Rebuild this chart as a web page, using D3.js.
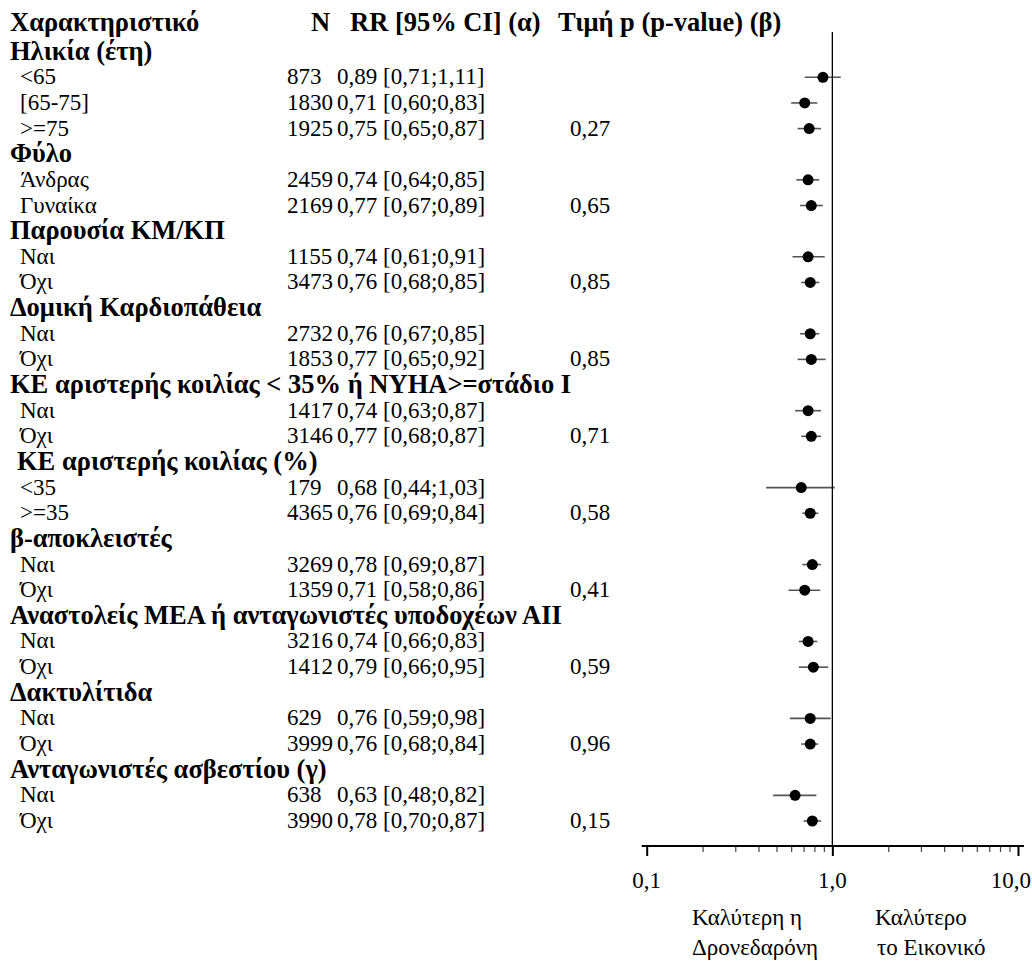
<!DOCTYPE html>
<html><head><meta charset="utf-8">
<script src="https://cdn.jsdelivr.net/npm/d3@7"></script>
<style>body{margin:0;background:#fff}svg{display:block}</style>
</head><body><svg id="c" width="1032" height="962"></svg>
<script>
const groupTitles = ["Ηλικία (έτη)","Φύλο","Παρουσία ΚΜ/ΚΠ","Δομική Καρδιοπάθεια","ΚΕ αριστερής κοιλίας < 35% ή NYHA>=στάδιο I"," ΚΕ αριστερής κοιλίας (%)","β-αποκλειστές","Αναστολείς ΜΕΑ ή ανταγωνιστές υποδοχέων ΑΙΙ","Δακτυλίτιδα","Ανταγωνιστές ασβεστίου (γ)"];
const itemGroup = [0,0,0,1,1,2,2,3,3,4,4,5,5,6,6,7,7,8,8,9,9];
const itemLabels = ["<65","[65-75]",">=75","Άνδρας","Γυναίκα","Ναι","Όχι","Ναι","Όχι","Ναι","Όχι","<35",">=35","Ναι","Όχι","Ναι","Όχι","Ναι","Όχι","Ναι","Όχι"];
const itemN = [873,1830,1925,2459,2169,1155,3473,2732,1853,1417,3146,179,4365,3269,1359,3216,1412,629,3999,638,3990];
const rr = [0.89,0.71,0.75,0.74,0.77,0.74,0.76,0.76,0.77,0.74,0.77,0.68,0.76,0.78,0.71,0.74,0.79,0.76,0.76,0.63,0.78];
const ciLow = [0.71,0.60,0.65,0.64,0.67,0.61,0.68,0.67,0.65,0.63,0.68,0.44,0.69,0.69,0.58,0.66,0.66,0.59,0.68,0.48,0.70];
const ciHigh = [1.11,0.83,0.87,0.85,0.89,0.91,0.85,0.85,0.92,0.87,0.87,1.03,0.84,0.87,0.86,0.83,0.95,0.98,0.84,0.82,0.87];
const pValues = ["","","0,27","","0,65","","0,85","","0,85","","0,71","","0,58","","0,41","","0,59","","0,96","","0,15"];
const headers = ["Χαρακτηριστικό","N","RR [95% CI] (α)","Τιμή p (p-value) (β)"];
const tickValues = [0.1,1,10];
const tickLabels = ["0,1","1,0","10,0"];
const favourLeft = ["Καλύτερη η","Δρονεδαρόνη"];
const favourRight = ["Καλύτερο","το Εικονικό"];

const svg = d3.select("#c");
const FS = 23, FSB = 26.5;
const FF = "'Liberation Serif', 'Times New Roman', serif";
function txt(x0,y0,s,bold){
  return svg.append("text").attr("x",x0).attr("y",y0)
    .attr("font-family","Liberation Serif")
    .style("font-family",FF).style("font-size",(bold?FSB:FS)+"px")
    .style("font-weight",bold?"bold":"normal").style("fill","#000").text(s);
}
const rows = [];
let gi = -1;
itemLabels.forEach((lab,i)=>{
  if(itemGroup[i]!==gi){gi=itemGroup[i];rows.push({type:"g",label:groupTitles[gi]});}
  rows.push({type:"i",i});
});
const y = d3.scaleLinear().domain([0,31]).range([26,821]);
const x = d3.scaleLog().domain([0.1,10]).range([646.7,1018]);
const fmt = v => v.toFixed(2).replace(".",",");
const dy = 7, dyb = 8;

const hx=[10,311,350,558];
headers.forEach((h,k)=>txt(hx[k],y(0)+dyb-3,h,true));

rows.forEach((r,k)=>{
  const yy = y(k+1);
  if(r.type==="g"){
    txt(r.label.startsWith(" ")?17:10,yy+dyb,r.label.trim(),true);
  } else {
    const i=r.i;
    txt(20,yy+dy,itemLabels[i]);
    txt(287,yy+dy,String(itemN[i]));
    txt(337,yy+dy,fmt(rr[i])+" ["+fmt(ciLow[i])+";"+fmt(ciHigh[i])+"]");
    if(pValues[i]) txt(570,yy+dy,pValues[i]);
    svg.append("line").attr("x1",x(ciLow[i])).attr("x2",x(ciHigh[i])).attr("y1",yy).attr("y2",yy).attr("stroke","#555").attr("stroke-width",1.6);
    svg.append("circle").attr("cx",x(rr[i])).attr("cy",yy).attr("r",5.5).attr("fill","#000");
  }
});

const axisY = 846;
svg.append("line").attr("x1",x(1)).attr("x2",x(1)).attr("y1",32).attr("y2",axisY).attr("stroke","#000").attr("stroke-width",1.3);

const minor = [];
[0.1,1].forEach(d=>{for(let m=1;m<10;m++)minor.push(d*m);});
minor.push(10);
const ax = svg.append("g").attr("transform",`translate(0,${axisY})`)
  .call(d3.axisBottom(x).tickValues(minor).tickSize(6).tickFormat(""));
ax.select(".domain").remove();
ax.selectAll(".tick line").attr("stroke","#444").attr("stroke-width",1.2);
ax.selectAll(".tick").filter(d=>tickValues.some(t=>Math.abs(t-d)<1e-9)).select("line").attr("y2",10).attr("stroke","#000").attr("stroke-width",2);
svg.append("line").attr("x1",x(0.1)-5).attr("x2",x(10)+6).attr("y1",axisY).attr("y2",axisY).attr("stroke","#000").attr("stroke-width",1.8);
tickValues.forEach((t,k)=>txt(k===2?x(t)+13:x(t),888,tickLabels[k]).attr("text-anchor",k===2?"end":"middle"));

favourLeft.forEach((t,k)=>txt(692,925+k*30,t));
favourRight.forEach((t,k)=>txt(875+k*2,925+k*30,t));
</script></body></html>
